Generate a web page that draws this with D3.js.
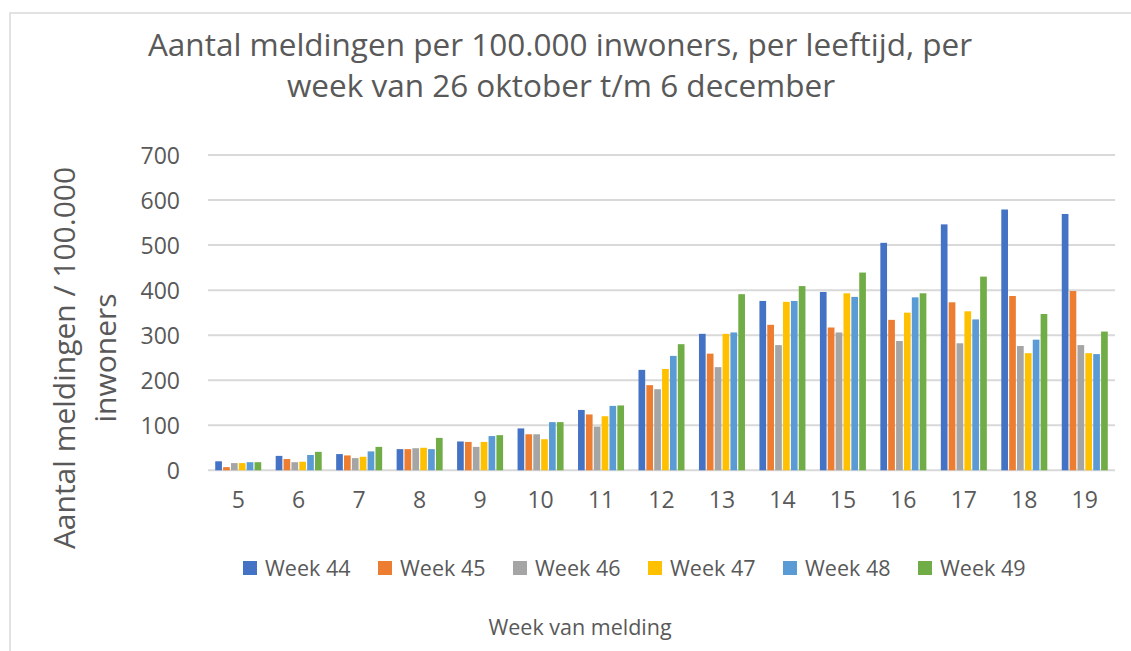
<!DOCTYPE html>
<html>
<head>
<meta charset="utf-8">
<script src="https://cdn.jsdelivr.net/npm/d3@7"></script>
<style>
  html, body { margin: 0; padding: 0; background: #fff; }
  svg { display: block; }
  text { font-family: "Open Sans", "Liberation Sans", sans-serif; fill: #595959; }
</style>
</head>
<body>
<svg id="chart" width="1131" height="651"></svg>
<script>
const categories = ["5","6","7","8","9","10","11","12","13","14","15","16","17","18","19"];
const seriesNames = ["Week 44","Week 45","Week 46","Week 47","Week 48","Week 49"];
const week44 = [20, 32, 36, 47, 64, 93, 134, 223, 303, 376, 396, 505, 546, 579, 569];
const week45 = [7, 25, 33, 47, 63, 80, 124, 189, 259, 323, 317, 334, 373, 387, 398];
const week46 = [16, 18, 27, 49, 52, 80, 97, 180, 229, 278, 306, 287, 282, 276, 278];
const week47 = [16, 19, 30, 50, 63, 69, 120, 225, 303, 374, 393, 350, 353, 260, 260];
const week48 = [18, 34, 42, 47, 76, 107, 143, 254, 306, 376, 385, 384, 335, 290, 258];
const week49 = [18, 41, 52, 72, 78, 107, 144, 280, 391, 409, 439, 393, 430, 347, 308];
const yTicks = [0, 100, 200, 300, 400, 500, 600, 700];
const colors = ["#4472C4","#ED7D31","#A5A5A5","#FFC000","#5B9BD5","#70AD47"];

const seriesValues = [week44, week45, week46, week47, week48, week49];

const svg = d3.select("#chart");

// chart frame
svg.append("rect").attr("x", 10).attr("y", 13).attr("width", 1130).attr("height", 650)
  .attr("fill", "none").attr("stroke", "#d9d9d9").attr("stroke-width", 1.5);

const x0 = d3.scaleBand().domain(categories).range([208, 1115]).paddingInner(0.2).paddingOuter(0.1);
const x1 = d3.scaleBand().domain(seriesNames).range([0, x0.bandwidth()]).padding(0.15);
const y = d3.scaleLinear().domain([0, 700]).range([470.3, 155]);

// y axis labels
const yAxis = d3.axisLeft(y).tickValues(yTicks).tickSize(0).tickPadding(0);
const gAxis = svg.append("g").attr("transform", "translate(180,0)").call(yAxis);
gAxis.select(".domain").remove();
gAxis.selectAll("text").attr("font-size", 23).attr("fill", "#595959")
  .style("font-family", "'Open Sans', sans-serif").attr("dy", "0.35em");

// gridlines
svg.append("g").selectAll("line").data(yTicks).join("line")
  .attr("x1", 208).attr("x2", 1115)
  .attr("y1", d => y(d)).attr("y2", d => y(d))
  .attr("stroke", "#d9d9d9").attr("stroke-width", 2);

// bars
const groups = svg.append("g").selectAll("g").data(categories).join("g")
  .attr("transform", d => `translate(${x0(d)},0)`);
groups.selectAll("rect")
  .data((c, i) => seriesNames.map((s, j) => ({ s, j, v: seriesValues[j][i] })))
  .join("rect")
  .attr("x", d => x1(d.s))
  .attr("width", x1.bandwidth())
  .attr("y", d => y(d.v))
  .attr("height", d => y(0) - y(d.v))
  .attr("fill", d => colors[d.j]);

// x axis labels
const xAxis = d3.axisBottom(x0).tickSize(0).tickPadding(0);
const gx = svg.append("g").attr("transform", "translate(0,500)").call(xAxis);
gx.select(".domain").remove();
gx.selectAll("text").attr("font-size", 23).attr("fill", "#595959")
  .style("font-family", "'Open Sans', sans-serif").attr("dy", "0.35em");

// title
const title = svg.append("text").attr("text-anchor", "middle").attr("font-size", 31.5);
title.append("tspan").attr("x", 560).attr("y", 56).text("Aantal meldingen per 100.000 inwoners, per leeftijd, per");
title.append("tspan").attr("x", 561).attr("y", 97).text("week van 26 oktober t/m 6 december");

// y axis title
const yt = svg.append("text").attr("text-anchor", "middle").attr("font-size", 30)
  .attr("transform", "translate(75,358) rotate(-90)");
yt.append("tspan").attr("x", 0).attr("y", 0).text("Aantal meldingen / 100.000");
yt.append("tspan").attr("x", 0).attr("y", 41).text("inwoners");

// legend
const legend = svg.append("g").selectAll("g").data(seriesNames).join("g")
  .attr("transform", (d, i) => `translate(${243 + i * 135},568)`);
legend.append("rect").attr("x", 0).attr("y", -7).attr("width", 14).attr("height", 14)
  .attr("fill", (d, i) => colors[i]);
legend.append("text").attr("x", 22).attr("y", 0).attr("dy", "0.35em")
  .attr("font-size", 21.5).text(d => d);

// x axis title
svg.append("text").attr("x", 580).attr("y", 627).attr("dy", "0.35em")
  .attr("text-anchor", "middle").attr("font-size", 21.5).text("Week van melding");
</script>
</body>
</html>
